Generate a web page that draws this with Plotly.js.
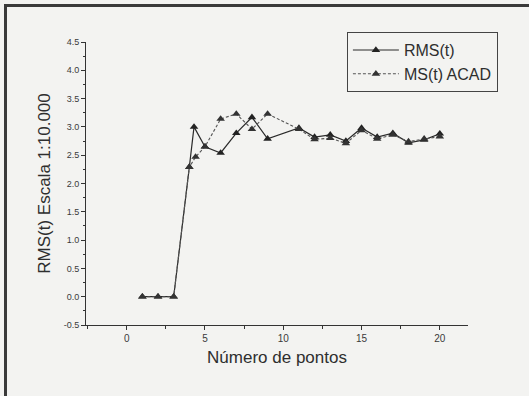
<!DOCTYPE html>
<html>
<head>
<meta charset="utf-8">
<script src="https://cdn.plot.ly/plotly-3.0.1.min.js"></script>
<style>
  html, body { margin: 0; padding: 0; background: #f3f3f1; }
  #wrap { position: relative; width: 529px; height: 396px; overflow: hidden; }
  #chart { position: absolute; left: 0; top: 0; width: 529px; height: 396px; }
  #frame { position: absolute; left: 4px; top: 4px; width: 530px; height: 400px;
           border-left: 3px solid #3a3a3a; border-top: 3px solid #3a3a3a; pointer-events: none; }
</style>
</head>
<body>
<div id="wrap">
  <div id="chart"></div>
  <div id="frame"></div>
</div>
<script>
// Series
const rmsX = [1, 2, 3, 4, 4.3, 5, 6, 7, 8, 9, 11, 12, 13, 14, 15, 16, 17, 18, 19, 20];
const rmsY = [0, 0, 0, 2.29, 3.0, 2.65, 2.54, 2.89, 3.17, 2.79, 2.98, 2.82, 2.86, 2.75, 2.98, 2.82, 2.89, 2.72, 2.77, 2.88];
const msX  = [1, 2, 3, 4, 4.4, 5, 6, 7, 8, 9, 11, 12, 13, 14, 15, 16, 17, 18, 19, 20];
const msY  = [0, 0, 0, 2.29, 2.47, 2.65, 3.14, 3.23, 2.96, 3.23, 2.96, 2.78, 2.80, 2.71, 2.94, 2.79, 2.86, 2.74, 2.79, 2.83];

const seriesNames = ["RMS(t)", "MS(t) ACAD"];
const xTickVals = [0, 5, 10, 15, 20];
const yTickVals = [-0.5, 0, 0.5, 1, 1.5, 2, 2.5, 3, 3.5, 4, 4.5];
const yTickText = ["-0.5", "0.0", "0.5", "1.0", "1.5", "2.0", "2.5", "3.0", "3.5", "4.0", "4.5"];
const xTitle = "Número de pontos";
const yTitle = "RMS(t) Escala 1:10.000";

const ink = "#2e2e2e";
const font = "Liberation Sans, Arial, sans-serif";

const traces = [
  {
    x: rmsX, y: rmsY, name: seriesNames[0], type: "scatter", mode: "lines+markers",
    line: { color: "#2a2a2a", width: 1.2 },
    marker: { symbol: "triangle-up", size: 7.5, color: "#222" }
  },
  {
    x: msX, y: msY, name: seriesNames[1], type: "scatter", mode: "lines+markers",
    line: { color: "#555", width: 1.1, dash: "3px,2px" },
    marker: { symbol: "triangle-up", size: 7.5, color: "#333" }
  }
];

const layout = {
  width: 529, height: 396,
  margin: { l: 86, r: 61, t: 42, b: 71, pad: 0 },
  paper_bgcolor: "#f3f3f1",
  plot_bgcolor: "rgba(0,0,0,0)",
  font: { family: font, color: ink },
  showlegend: true,
  legend: {
    x: 0.683, y: 1.035, xanchor: "left", yanchor: "top",
    bgcolor: "rgba(0,0,0,0)", bordercolor: "#444", borderwidth: 1,
    font: { size: 16, family: font, color: ink },
    itemwidth: 46, tracegroupgap: 0
  },
  xaxis: {
    range: [-2.6, 21.8],
    tickvals: xTickVals,
    showgrid: false, zeroline: false,
    showline: true, linecolor: "#333", linewidth: 1,
    ticks: "outside", ticklen: 4, tickcolor: "#333", tickwidth: 1,
    minor: { dtick: 2.5, tick0: 0, ticks: "outside", ticklen: 2.5, tickcolor: "#333", showgrid: false },
    tickfont: { size: 10, color: "#3a3a3a" },
    title: { text: xTitle, font: { size: 17, color: ink }, standoff: 8 },
    automargin: false
  },
  yaxis: {
    range: [-0.5, 4.5],
    tickvals: yTickVals, ticktext: yTickText,
    showgrid: false, zeroline: false,
    showline: true, linecolor: "#333", linewidth: 1,
    ticks: "outside", ticklen: 4, tickcolor: "#333", tickwidth: 1,
    minor: { dtick: 0.25, tick0: 0, ticks: "outside", ticklen: 2.5, tickcolor: "#333", showgrid: false },
    tickfont: { size: 9, color: "#3a3a3a" },
    title: { text: yTitle, font: { size: 17, color: ink }, standoff: 8 },
    automargin: false
  }
};

Plotly.newPlot("chart", traces, layout, { displayModeBar: false, staticPlot: true });
</script>
</body>
</html>
